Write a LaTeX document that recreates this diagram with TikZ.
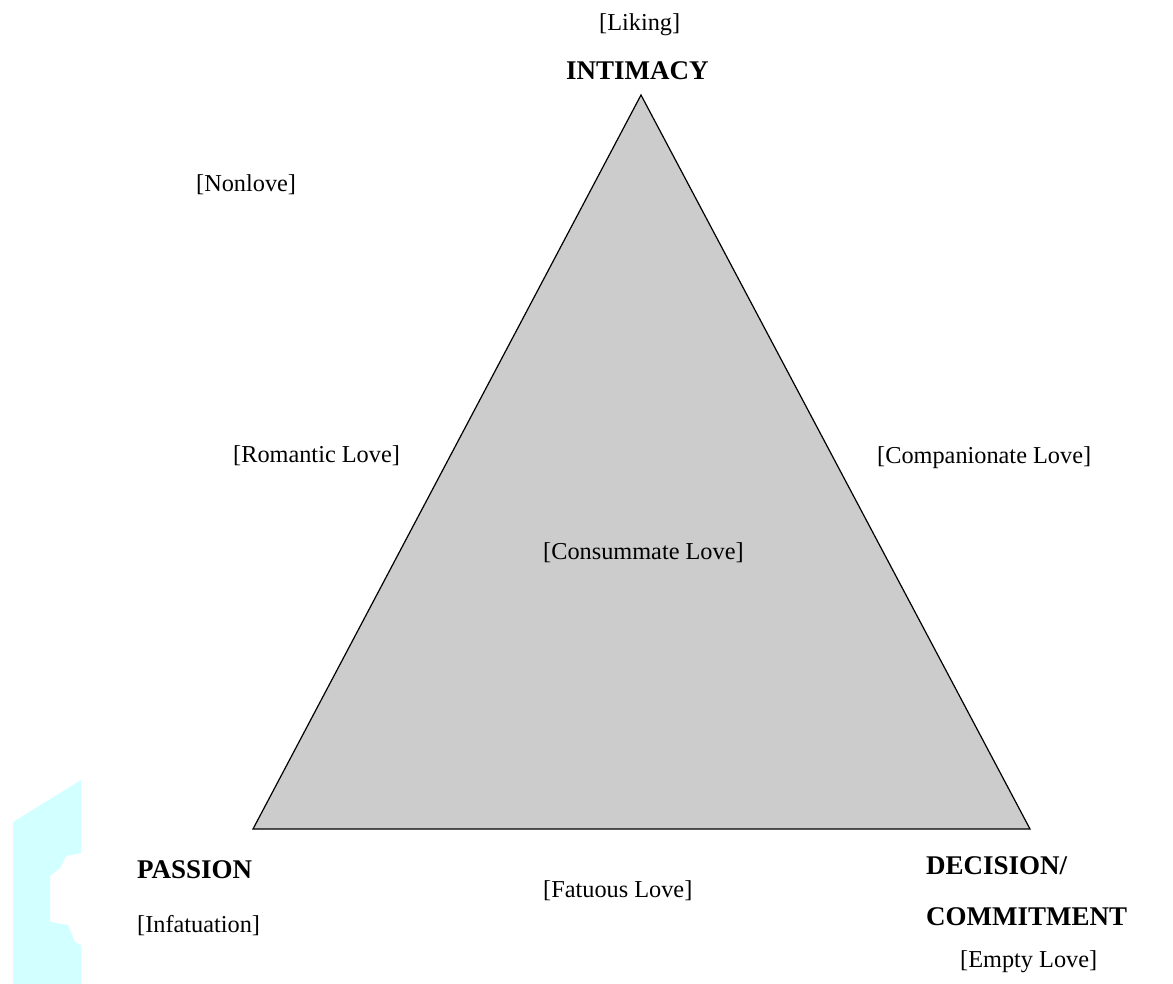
\documentclass[tikz,border=0pt]{standalone}
\usepackage{fontspec}
\setmainfont{Liberation Serif}
\definecolor{tri}{RGB}{204,204,204}
\definecolor{cyanblob}{RGB}{210,255,255}
\tikzset{
  lbl/.style={anchor=base west, inner sep=0pt, font=\fontsize{24.3}{29}\selectfont},
  head/.style={anchor=base west, inner sep=0pt, font=\fontsize{27}{32}\selectfont\bfseries},
}
\begin{document}
\begin{tikzpicture}[x=1pt,y=-1pt]
\useasboundingbox (0,0) rectangle (1173,984);
% light cyan shape at lower left
\fill[cyanblob] (13,822) -- (81,780) -- (81,853) -- (66,856) -- (60,868) -- (50,876)
  -- (50,922) -- (68,925) -- (75,942) -- (81,945) -- (81,984) -- (13,984) -- cycle;
% triangle
\coordinate (top) at (641,95);
\coordinate (bl) at (253,829);
\coordinate (br) at (1030,829);
\draw[fill=tri, line width=1.2pt, line join=miter] (top) -- (bl) -- (br) -- cycle;
% labels
\node[lbl] (liking) at (599,31) {[Liking]};
\node[head] (intimacy) at (566,80) {INTIMACY};
\node[lbl] (nonlove) at (196,192) {[Nonlove]};
\node[lbl] (romantic) at (233,462) {[Romantic Love]};
\node[lbl] (companionate) at (877,463) {[Companionate Love]};
\node[lbl] (consummate) at (543,559) {[Consummate Love]};
\node[lbl] (fatuous) at (543,897) {[Fatuous Love]};
\node[head] (passion) at (137,878) {PASSION};
\node[lbl] (infatuation) at (137,932) {[Infatuation]};
\node[head] (decision) at (926,874) {DECISION/};
\node[head] (commitment) at (926,925) {COMMITMENT};
\node[lbl] (empty) at (960,967) {[Empty Love]};
\end{tikzpicture}
\end{document}
